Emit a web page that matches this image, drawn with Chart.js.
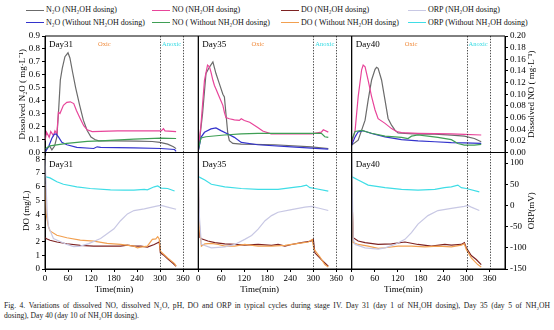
<!DOCTYPE html>
<html>
<head>
<meta charset="utf-8">
<script src="https://cdn.jsdelivr.net/npm/chart.js@4.4.1/dist/chart.umd.min.js"></script>
<style>
  body { margin: 0; width: 554px; height: 330px; background: #fff; position: relative; overflow: hidden;
         font-family: 'Liberation Serif', 'Times New Roman', serif; color: #111; }
  #chartBox { position: absolute; left: 0; top: 0; width: 554px; height: 300px; }
  .lg { position: absolute; font-size: 8px; line-height: 10px; white-space: nowrap; }
  .lg i { display: inline-block; width: 18px; height: 0; border-top: 1.3px solid; vertical-align: middle; margin-right: 2px; }
  .cap { position: absolute; left: 4px; width: 546px; font-size: 7.6px; line-height: 10px; color: #222; }
  #cap1 { top: 301px; text-align: justify; text-align-last: justify; }
  #cap2 { top: 311px; }
</style>
</head>
<body>
<div id="legend"></div>
<div id="chartBox"><canvas id="cycleChart"></canvas></div>
<div class="cap" id="cap1">Fig. 4. Variations of dissolved NO, dissolved N₂O, pH, DO and ORP in typical cycles during stage IV. Day 31 (day 1 of NH₂OH dosing), Day 35 (day 5 of NH₂OH</div>
<div class="cap" id="cap2">dosing), Day 40 (day 10 of NH₂OH dosing).</div>
<script>
// cycle data, [time (min), value]
const dayNames = ['Day31', 'Day35', 'Day40'];
const phaseBounds = [300, 360];

// Day 31
const n2oDose31 = [[0,0],[5,0.03],[12,0.05],[18,0.02],[25,0.05],[31,0.12],[36,0.35],[40,0.56],[45,0.65],[52,0.74],[60,0.77],[65,0.73],[72,0.62],[80,0.5],[90,0.37],[100,0.25],[110,0.17],[120,0.12],[130,0.1],[140,0.09],[180,0.09],[240,0.088],[280,0.085],[300,0.078],[320,0.065],[335,0.045],[342,0.03]];
const n2oFree31 = [[0,0],[10,0.05],[18,0.11],[24,0.14],[29,0.143],[35,0.12],[44,0.078],[57,0.06],[83,0.039],[127,0.031],[136,0.044],[145,0.039],[232,0.036],[303,0.031],[338,0.023],[342,0.008]];
const noDose31 = [[0,0.02],[4,0.035],[11,0.026],[15,0.036],[22,0.029],[26,0.037],[31,0.032],[35,0.069],[39,0.067],[48,0.081],[57,0.086],[66,0.087],[75,0.084],[82,0.072],[92,0.058],[101,0.046],[110,0.039],[123,0.036],[189,0.037],[276,0.037],[303,0.037],[309,0.041],[313,0.037],[342,0.036]];
const noFree31 = [[0,0.006],[13,0.0115],[57,0.0156],[110,0.019],[145,0.02],[232,0.023],[303,0.0248],[342,0.024]];
const doDose31 = [[0,2.3],[4,2.2],[13,2.1],[31,1.97],[57,1.84],[92,1.72],[127,1.67],[162,1.67],[197,1.67],[215,1.74],[232,1.67],[250,1.67],[267,1.6],[285,1.79],[294,1.92],[298,1.97],[301,1.18],[311,0.98],[320,0.74],[333,0.44],[342,0.2]];
const doFree31 = [[0,6.2],[3,4.0],[9,3.1],[13,2.78],[31,2.46],[57,2.28],[92,2.11],[127,2.04],[162,1.87],[197,1.79],[232,1.67],[241,1.55],[250,1.6],[267,1.67],[280,2.16],[289,2.2],[294,2.36],[298,2.2],[301,1.3],[320,0.81],[338,0.39],[342,0.2]];
const orpDose31 = [[0,118],[3,40],[6,-20],[9,-50],[22,-78],[57,-92],[75,-97],[92,-96],[114,-90],[145,-78],[180,-55],[197,-36],[215,-20],[232,-12],[259,-8],[294,-1],[303,0],[320,-4],[342,-9]];
const orpFree31 = [[0,68],[13,65],[31,56],[48,50],[83,44],[118,40],[171,37],[206,36],[232,36],[259,38],[267,37],[285,44],[294,46],[303,41],[320,40],[338,34]];

// Day 35
const n2oDose35 = [[0,0.013],[11,0.3],[20,0.61],[29,0.66],[38,0.7],[46,0.61],[55,0.53],[64,0.45],[68,0.43],[72,0.3],[77,0.143],[81,0.091],[90,0.07],[112,0.065],[199,0.06],[295,0.044],[339,0.031]];
const n2oFree35 = [[0,0.013],[7,0.117],[16,0.156],[33,0.182],[46,0.19],[59,0.169],[77,0.143],[94,0.117],[112,0.078],[155,0.06],[243,0.044],[295,0.034],[339,0.026]];
const noDose35 = [[0,0.003],[7,0.049],[16,0.124],[24,0.15],[29,0.147],[33,0.138],[38,0.124],[42,0.115],[46,0.109],[55,0.095],[64,0.081],[68,0.069],[72,0.06],[81,0.058],[94,0.056],[107,0.055],[112,0.058],[120,0.055],[134,0.052],[155,0.043],[168,0.037],[190,0.032],[243,0.032],[295,0.032],[321,0.035],[326,0.039],[339,0.035]];
const noFree35 = [[0,0.006],[7,0.025],[20,0.027],[68,0.03],[112,0.032],[155,0.033],[243,0.033],[321,0.033],[330,0.027],[339,0.026]];
const doDose35 = [[0,5.5],[4,2.3],[8,2.21],[25,2.04],[43,1.92],[69,1.84],[95,1.79],[121,1.74],[156,1.79],[191,1.72],[208,1.79],[226,1.67],[243,1.79],[269,1.92],[295,2.04],[300,2.16],[304,1.18],[321,0.69],[330,0.44],[339,0.2]];
const doFree35 = [[0,6.5],[3,3.0],[8,1.67],[17,1.84],[34,1.87],[52,1.79],[69,1.67],[95,1.67],[121,1.79],[156,1.67],[191,1.67],[226,1.72],[261,1.87],[287,1.97],[297,2.16],[302,1.43],[317,0.89],[330,0.32],[339,0.15]];
const orpDose35 = [[0,115],[3,-30],[8,-92],[34,-100],[69,-98],[95,-92],[121,-80],[139,-71],[156,-56],[174,-36],[191,-24],[208,-16],[243,-10],[278,-4],[295,-2],[313,-6],[339,-12]];
const orpFree35 = [[0,68],[17,60],[34,50],[69,44],[112,40],[156,38],[208,38],[243,42],[269,45],[282,48],[291,42],[304,40],[339,34]];

// Day 40
const n2oDose40 = [[0,0.057],[17,0.095],[35,0.25],[43,0.405],[52,0.56],[61,0.642],[65,0.658],[69,0.65],[78,0.56],[87,0.405],[95,0.263],[104,0.211],[113,0.173],[121,0.152],[139,0.147],[173,0.142],[217,0.142],[260,0.134],[294,0.126],[320,0.108],[338,0.083]];
const n2oFree40 = [[0,0.057],[9,0.121],[17,0.16],[30,0.168],[52,0.147],[87,0.121],[130,0.1],[173,0.09],[217,0.083],[260,0.077],[294,0.075],[338,0.07]];
const noDose40 = [[0,0.016],[9,0.038],[17,0.096],[26,0.142],[30,0.15],[35,0.147],[43,0.124],[52,0.096],[61,0.073],[69,0.058],[87,0.05],[104,0.041],[117,0.036],[130,0.034],[173,0.033],[260,0.032],[294,0.031],[338,0.03]];
const noFree40 = [[0,0.021],[9,0.036],[26,0.038],[52,0.033],[87,0.028],[130,0.026],[147,0.024],[156,0.028],[173,0.03],[199,0.028],[225,0.026],[260,0.022],[277,0.0155],[294,0.0126],[320,0.0126],[338,0.0138]];
const doDose40 = [[0,6.0],[4,2.28],[17,2.04],[35,1.92],[69,1.79],[104,1.84],[139,1.97],[173,1.79],[208,1.67],[243,1.79],[260,1.74],[286,1.79],[294,1.92],[299,1.55],[312,0.98],[325,0.69],[338,0.32]];
const doFree40 = [[0,6.5],[4,1.92],[17,1.79],[43,1.67],[69,1.5],[87,1.55],[121,1.67],[156,1.67],[191,1.62],[225,1.67],[260,1.62],[286,1.74],[294,1.84],[299,1.43],[312,0.81],[329,0.32],[338,0.15]];
const orpDose40 = [[0,115],[4,-80],[9,-92],[35,-100],[69,-103],[87,-100],[113,-92],[139,-80],[156,-64],[173,-44],[199,-24],[225,-12],[260,-7],[294,-2],[303,0],[312,-4],[333,-12]];
const orpFree40 = [[0,68],[17,60],[43,48],[87,42],[130,38],[173,36],[217,38],[242,42],[260,44],[277,48],[286,42],[299,40],[333,32]];

const cycles = [
  { orpDose: orpDose31, orpFree: orpFree31, doFree: doFree31, doDose: doDose31, noFree: noFree31, n2oFree: n2oFree31, noDose: noDose31, n2oDose: n2oDose31 },
  { orpDose: orpDose35, orpFree: orpFree35, doFree: doFree35, doDose: doDose35, noFree: noFree35, n2oFree: n2oFree35, noDose: noDose35, n2oDose: n2oDose35 },
  { orpDose: orpDose40, orpFree: orpFree40, doFree: doFree40, doDose: doDose40, noFree: noFree40, n2oFree: n2oFree40, noDose: noDose40, n2oDose: n2oDose40 },
];

// legend labels + line colours / axis for each series
const series = {
  n2oDose: { label: 'N₂O (NH₂OH dosing)', color: '#6b6b6b', axis: 'yN2O' },
  n2oFree: { label: 'N₂O (Without NH₂OH dosing)', color: '#3333cc', axis: 'yN2O' },
  noDose:  { label: 'NO (NH₂OH dosing)', color: '#e8459a', axis: 'yNO' },
  noFree:  { label: 'NO ( Without NH₂OH dosing)', color: '#3f9f55', axis: 'yNO' },
  doDose:  { label: 'DO (NH₂OH dosing)', color: '#7d2222', axis: 'yDO' },
  doFree:  { label: 'DO ( Without NH₂OH dosing)', color: '#f2a050', axis: 'yDO' },
  orpDose: { label: 'ORP (NH₂OH dosing)', color: '#c8c8e4', axis: 'yORP' },
  orpFree: { label: 'ORP (Without NH₂OH dosing)', color: '#3fdde6', axis: 'yORP' },
};

// html legend, 4 columns x 2 rows
const legendRows = [['n2oDose', 'noDose', 'doDose', 'orpDose'], ['n2oFree', 'noFree', 'doFree', 'orpFree']];
const legendCols = [26, 152, 281, 408];
const legendEl = document.getElementById('legend');
legendRows.forEach((row, r) => {
  row.forEach((key, c) => {
    const item = document.createElement('div');
    item.className = 'lg';
    item.style.left = legendCols[c] + 'px';
    item.style.top = (5 + r * 12.5) + 'px';
    item.innerHTML = '<i style="border-color:' + series[key].color + '"></i>' + series[key].label;
    legendEl.appendChild(item);
  });
});

// build datasets, one x axis per day
const datasets = [];
cycles.forEach((cycle, c) => {
  Object.keys(cycle).forEach(key => {
    datasets.push({
      label: series[key].label + ' ' + dayNames[c],
      data: cycle[key],
      xAxisID: 'x' + c,
      yAxisID: series[key].axis,
      borderColor: series[key].color,
      backgroundColor: 'transparent',
      borderWidth: 1.2,
      pointRadius: 0,
      fill: false,
      tension: 0,
    });
  });
});

Chart.defaults.font.family = "'Liberation Serif', 'Times New Roman', serif";
Chart.defaults.font.size = 9;
Chart.defaults.color = '#000';

function timeAxis() {
  return {
    type: 'linear', position: 'bottom', stack: 'time', min: 0, max: 400,
    ticks: { stepSize: 60, includeBounds: false, padding: 1, maxRotation: 0, autoSkip: false },
    grid: { drawOnChartArea: false, tickLength: 3, color: '#000' },
    border: { color: '#000' },
    afterFit: (scale) => { scale.height = 31; },
  };
}

const fixedTicks = { padding: 2, autoSkip: false };

// frame, dotted phase lines and panel texts
const panelDecor = {
  id: 'panelDecor',
  afterDatasetsDraw(chart) {
    const { ctx, chartArea, scales } = chart;
    const xIds = ['x0', 'x1', 'x2'];
    const line = (x1, y1, x2, y2) => { ctx.beginPath(); ctx.moveTo(x1, y1); ctx.lineTo(x2, y2); ctx.stroke(); };
    ctx.save();
    ctx.strokeStyle = '#222';
    ctx.lineWidth = 0.8;
    ctx.setLineDash([1.4, 1.4]);
    xIds.forEach(id => phaseBounds.forEach(t => {
      const px = Math.round(scales[id].getPixelForValue(t)) + 0.5;
      line(px, chartArea.top, px, chartArea.bottom);
    }));
    ctx.setLineDash([]);
    ctx.strokeStyle = '#000';
    ctx.lineWidth = 1;
    xIds.forEach(id => {
      line(scales[id].left, chartArea.top, scales[id].left, chartArea.bottom);
      line(scales[id].right, chartArea.top, scales[id].right, chartArea.bottom);
    });
    [scales.yN2O, scales.yDO].forEach(s => {
      line(chartArea.left, s.top, chartArea.right, s.top);
      line(chartArea.left, s.bottom, chartArea.right, s.bottom);
    });

    const timeTitleAt = [180, 160, 135];
    ctx.textBaseline = 'middle';
    xIds.forEach((id, c) => {
      const xs = scales[id];
      ctx.fillStyle = '#000';
      ctx.textAlign = 'left';
      ctx.font = "9px 'Liberation Serif'";
      ctx.fillText(dayNames[c], xs.left + 4, scales.yN2O.top + 9);
      ctx.fillText(dayNames[c], xs.left + 4, scales.yDO.top + 12);
      ctx.textAlign = 'center';
      ctx.fillText('Time(min)', xs.getPixelForValue(timeTitleAt[c]), chartArea.bottom + 21);
      ctx.font = "6.5px 'Liberation Serif'";
      ctx.fillStyle = '#f08a3a';
      ctx.fillText('Oxic', xs.getPixelForValue(155), scales.yN2O.top + 8);
      ctx.fillStyle = '#35dbe3';
      ctx.fillText('Anoxic', xs.getPixelForValue(330), scales.yN2O.top + 8);
    });

    // right axis titles read bottom to top
    ctx.fillStyle = '#000';
    ctx.font = "9px 'Liberation Serif'";
    [[scales.yNO, 'Dissolved NO ( mg·L⁻¹)'], [scales.yORP, 'ORP(mV)']].forEach(([s, text]) => {
      ctx.save();
      ctx.translate(s.left + 27, (s.top + s.bottom) / 2);
      ctx.rotate(-Math.PI / 2);
      ctx.textAlign = 'center';
      ctx.fillText(text, 0, 0);
      ctx.restore();
    });
    ctx.restore();
  }
};

const ctx = document.getElementById('cycleChart').getContext('2d');
const cycleChart = new Chart(ctx, {
  type: 'line',
  data: { datasets: datasets },
  plugins: [panelDecor],
  options: {
    responsive: true,
    maintainAspectRatio: false,
    animation: false,
    events: [],
    layout: { padding: { top: 36, left: 0, right: 0, bottom: 0 } },
    plugins: { legend: { display: false }, tooltip: { enabled: false } },
    scales: {
      x0: timeAxis(),
      x1: timeAxis(),
      x2: timeAxis(),
      yDO: {
        type: 'linear', position: 'left', stack: 'left', min: 0, max: 8.5,
        ticks: { ...fixedTicks, stepSize: 1, includeBounds: false },
        grid: { drawOnChartArea: false, tickLength: 3, color: '#000' },
        border: { color: '#000' },
        title: { display: true, text: 'DO (mg/L)', padding: { top: 21, bottom: 0 }, font: { size: 9 } },
        afterFit: (scale) => { scale.width = 45; },
      },
      yN2O: {
        type: 'linear', position: 'left', stack: 'left', min: 0, max: 0.9,
        ticks: { ...fixedTicks, stepSize: 0.1, callback: v => v.toFixed(1) },
        grid: { drawOnChartArea: false, tickLength: 3, color: '#000' },
        border: { color: '#000' },
        title: { display: true, text: 'Dissolved N₂O ( mg·L⁻¹)', padding: { top: 17, bottom: 0 }, font: { size: 9 } },
        afterFit: (scale) => { scale.width = 45; },
      },
      yNO: {
        type: 'linear', position: 'right', stack: 'right', min: 0, max: 0.2,
        ticks: { ...fixedTicks, stepSize: 0.02, callback: v => v.toFixed(2) },
        grid: { drawOnChartArea: false, tickLength: 3, color: '#000' },
        border: { color: '#000' },
        afterFit: (scale) => { scale.width = 49; },
      },
      yORP: {
        type: 'linear', position: 'right', stack: 'right', min: -150, max: 125,
        ticks: { ...fixedTicks, stepSize: 50, includeBounds: false },
        grid: { drawOnChartArea: false, tickLength: 3, color: '#000' },
        border: { color: '#000' },
        afterFit: (scale) => { scale.width = 49; },
      },
    },
  },
});
</script>
</body>
</html>
